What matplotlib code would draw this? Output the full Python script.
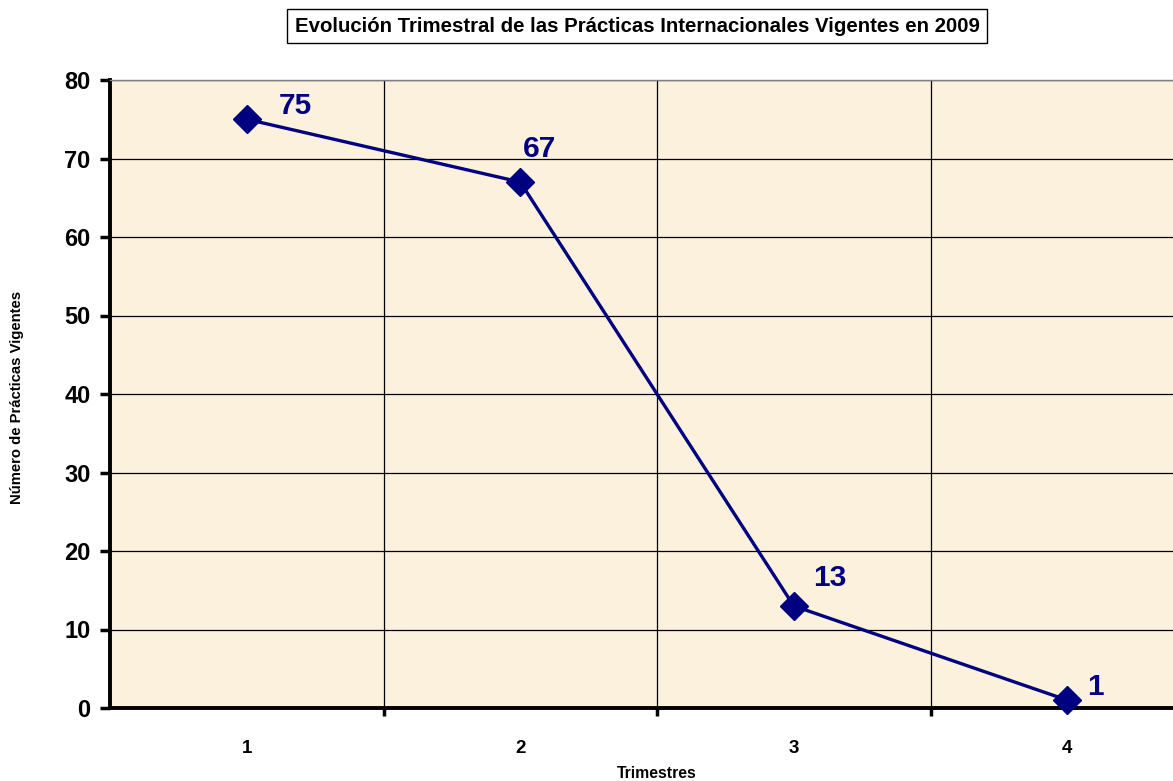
import matplotlib
matplotlib.use('Agg')
import matplotlib.pyplot as plt

# data
trimestres = [1, 2, 3, 4]
practicas = [75, 67, 13, 1]

# label offsets (pixels) for the value annotations
label_offsets = [(49, 13), (19, 33), (36, 28), (28, 13)]

plt.rcParams['font.family'] = ['Liberation Sans', 'DejaVu Sans']
plt.rcParams['font.weight'] = 'bold'

fig = plt.figure(figsize=(11.73, 7.81), dpi=100)
ax = fig.add_axes([110/1173, 1 - 708/781, (1204 - 110)/1173, (708 - 80)/781])
ax.set_facecolor('#FCF1DC')

ax.plot(trimestres, practicas, color='#000080', linewidth=2.4,
        marker='D', markersize=14.5, markerfacecolor='#000080',
        markeredgecolor='#000080', zorder=5, clip_on=False)

for x, y, (dx, dy) in zip(trimestres, practicas, label_offsets):
    ax.annotate(str(y), (x, y), xytext=(dx * 0.72, dy * 0.72),
                textcoords='offset points', ha='center', va='center',
                fontsize=21.5, fontweight='bold', color='#000080', zorder=6)

ax.set_xlim(0.5, 4.5)
ax.set_ylim(0, 80)
ax.set_yticks(range(0, 81, 10))
ax.set_xticks([1.5, 2.5, 3.5])
ax.set_xticklabels([])
ax.set_xticks(trimestres, minor=True)
ax.set_xticklabels([str(t) for t in trimestres], minor=True)

ax.grid(True, which='major', color='black', linewidth=0.9)
ax.set_axisbelow(True)

for side in ['left', 'bottom']:
    ax.spines[side].set_linewidth(2.8)
    ax.spines[side].set_color('black')
ax.spines['top'].set_color('#808080')
ax.spines['top'].set_linewidth(1)
ax.spines['right'].set_visible(False)

ax.tick_params(axis='y', which='major', length=7, width=2.5, labelsize=17, pad=7)
ax.tick_params(axis='x', which='major', length=5.5, width=2.5)
ax.tick_params(axis='x', which='minor', length=0, labelsize=13.5, pad=23)
for lab in ax.get_yticklabels() + ax.get_xticklabels(minor=True):
    lab.set_fontweight('bold')

fig.text(17/1173, 1 - 397/781, 'Número de Prácticas Vigentes', rotation=90,
         ha='center', va='center', fontsize=10.7, fontweight='bold')
fig.text(657/1173, 1 - 773/781, 'Trimestres', ha='center', va='center',
         fontsize=11.3, fontweight='bold')

fig.text(637/1173, 1 - 26/781, 'Evolución Trimestral de las Prácticas Internacionales Vigentes en 2009',
         ha='center', va='center', fontsize=14.7, fontweight='bold',
         bbox=dict(boxstyle='square,pad=0.38', facecolor='white',
                   edgecolor='black', linewidth=1))

fig.savefig('out.png', dpi=100)
